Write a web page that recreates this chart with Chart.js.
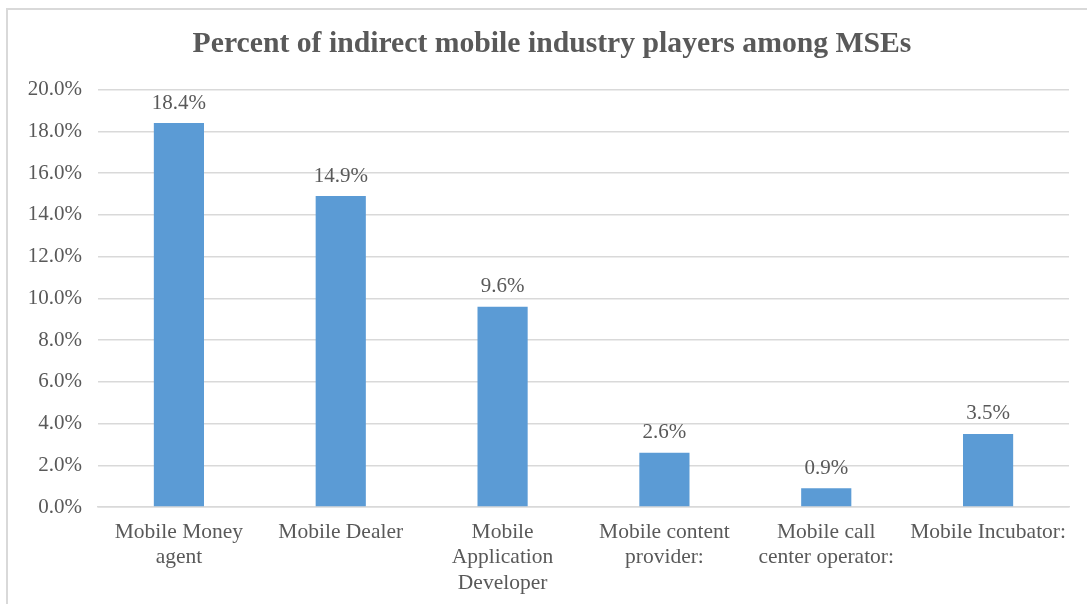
<!DOCTYPE html>
<html>
<head>
<meta charset="utf-8">
<script src="https://cdn.jsdelivr.net/npm/chart.js@4"></script>
<style>
  html, body { margin: 0; padding: 0; background: #fff; overflow: hidden; }
  #frame { position: absolute; left: 6px; top: 8px; width: 1100px; height: 620px; border: 2px solid #d9d9d9; box-sizing: border-box; }
  #wrap { position: absolute; left: 0; top: 0; width: 1087px; height: 604px; }
</style>
</head>
<body>
<div id="frame"></div>
<div id="wrap"><canvas id="chart"></canvas></div>
<script>
// datos del gráfico
const categories = [
    ['Mobile Money', 'agent'],
    'Mobile Dealer',
    ['Mobile', 'Application', 'Developer'],
    ['Mobile content', 'provider:'],
    ['Mobile call', 'center operator:'],
    'Mobile Incubator:'
];
const percentValues = [18.4, 14.9, 9.6, 2.6, 0.9, 3.5];
const yTicks = [0, 2, 4, 6, 8, 10, 12, 14, 16, 18, 20];

const textColor = '#595959';
const serif = '"Liberation Serif", "Times New Roman", serif';

// etiquetas encima de cada barra
const valueLabels = {
    id: 'valueLabels',
    afterDatasetsDraw(chart) {
        const ctx = chart.ctx;
        const meta = chart.getDatasetMeta(0);
        ctx.save();
        ctx.font = '21px ' + serif;
        ctx.fillStyle = textColor;
        ctx.textAlign = 'center';
        ctx.textBaseline = 'middle';
        meta.data.forEach((bar, i) => {
            ctx.fillText(percentValues[i].toFixed(1) + '%', bar.x, bar.y - 20);
        });
        ctx.restore();
    }
};

// el título está un poco a la derecha del centro
const shiftTitle = {
    id: 'shiftTitle',
    afterLayout(chart) {
        if (chart.titleBlock) chart.titleBlock.left = 35;
    }
};

new Chart(document.getElementById('chart'), {
    type: 'bar',
    data: {
        labels: categories,
        datasets: [{
            data: percentValues,
            backgroundColor: '#5B9BD5',
            barPercentage: 0.31,
            categoryPercentage: 1
        }]
    },
    options: {
        responsive: true,
        maintainAspectRatio: false,
        animation: false,
        layout: { padding: { left: 0, right: 18, top: 0, bottom: 0 } },
        plugins: {
            legend: { display: false },
            tooltip: { enabled: false },
            title: {
                display: true,
                text: 'Percent of indirect mobile industry players among MSEs',
                color: textColor,
                font: { family: serif, size: 29.7, weight: 'bold', lineHeight: 1.2 },
                padding: { top: 27, bottom: 27 }
            }
        },
        scales: {
            x: {
                grid: { display: false, drawTicks: false },
                border: { display: true, color: '#d9d9d9', width: 1.5 },
                ticks: {
                    color: textColor,
                    font: { family: serif, size: 21.5, lineHeight: 1.17 },
                    padding: 13,
                    maxRotation: 0,
                    autoSkip: false
                },
                afterFit: (scale) => { scale.height = 97; }
            },
            y: {
                min: 0,
                max: 20,
                afterBuildTicks: (scale) => { scale.ticks = yTicks.map(v => ({ value: v })); },
                grid: { color: '#d9d9d9', lineWidth: 1.5, drawTicks: false },
                border: { display: false },
                ticks: {
                    color: textColor,
                    font: { family: serif, size: 21 },
                    padding: 16,
                    callback: (v) => v.toFixed(1) + '%'
                },
                afterFit: (scale) => { scale.width = 98; }
            }
        }
    },
    plugins: [valueLabels, shiftTitle]
});
</script>
</body>
</html>
